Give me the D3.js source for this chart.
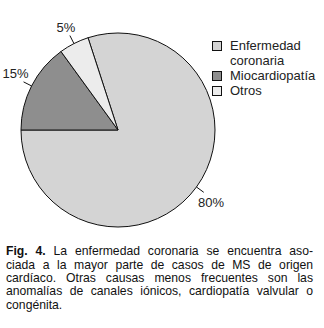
<!DOCTYPE html>
<html><head><meta charset="utf-8">
<script src="https://cdn.jsdelivr.net/npm/d3@7"></script>
<style>html,body{margin:0;padding:0;background:#fff;}svg{display:block;}</style>
</head><body>
<svg id="c" width="324" height="328"></svg>
<script>
const categories = ["Enfermedad coronaria", "Miocardiopatía", "Otros"];
const legendLines = [["Enfermedad", "coronaria"], ["Miocardiopatía"], ["Otros"]];
const values = [80, 15, 5];
const valueLabels = ["80%", "15%", "5%"];
const colors = ["#d4d4d4", "#8e8e8e", "#ececec"];
const captionLines = [
  [["Fig.", true], ["4.", true], ["La",0], ["enfermedad",0], ["coronaria",0], ["se",0], ["encuentra",0], ["aso-",0]],
  [["ciada",0], ["a",0], ["la",0], ["mayor",0], ["parte",0], ["de",0], ["casos",0], ["de",0], ["MS",0], ["de",0], ["origen",0]],
  [["cardíaco.",0], ["Otras",0], ["causas",0], ["menos",0], ["frecuentes",0], ["son",0], ["las",0]],
  [["anomalías",0], ["de",0], ["canales",0], ["iónicos,",0], ["cardiopatía",0], ["valvular",0], ["o",0]],
  [["congénita.",0]]
];

const svg = d3.select("#c");
const font = "'Liberation Sans', Arial, sans-serif";
const cx = 118, cy = 130, R = 97;
const deg = Math.PI / 180;

const pie = d3.pie().sort(null).value(d => d).startAngle(-18 * deg).endAngle(342 * deg);
const arcs = pie(values);
const arc = d3.arc().innerRadius(0).outerRadius(R);
const g = svg.append("g").attr("transform", `translate(${cx},${cy})`);
g.selectAll("path").data(arcs).join("path")
  .attr("d", arc)
  .attr("fill", (d, i) => colors[i])
  .attr("stroke", "#111").attr("stroke-width", 1).attr("stroke-linejoin", "round");

// labels with leader lines
arcs.forEach((a, i) => {
  const m = (a.startAngle + a.endAngle) / 2;
  const s = Math.sin(m), c = -Math.cos(m);
  const p0 = [s * R, c * R], p1 = [s * (R + 9), c * (R + 9)];
  g.append("line").attr("x1", p0[0]).attr("y1", p0[1]).attr("x2", p1[0]).attr("y2", p1[1])
    .attr("stroke", "#111").attr("stroke-width", 1);
  const tx = p1[0] + 9 * s;
  const ty = c < 0 ? p1[1] - 3.5 : p1[1] + 15;
  g.append("text").attr("x", tx).attr("y", ty).attr("text-anchor", "middle")
    .attr("font-family", font).attr("font-size", 13).attr("fill", "#222").text(valueLabels[i]);
});

// legend
const legendRows = [0, 2, 3];
const lineH = 15;
categories.forEach((cat, i) => {
  const y0 = 50 + legendRows[i] * lineH;
  svg.append("rect").attr("x", 212.5).attr("y", y0 - 8.5).attr("width", 9).attr("height", 9)
    .attr("fill", colors[i]).attr("stroke", "#111").attr("stroke-width", 1);
  legendLines[i].forEach((t, j) => {
    svg.append("text").attr("x", 230).attr("y", y0 + j * 14.5)
      .attr("font-family", font).attr("font-size", 13).attr("fill", "#222").text(t);
  });
});

// caption, justified
const capSize = 12.2, left = 6, right = 313, base0 = 255.3, capLH = 13.35;
const meas = svg.append("text").attr("font-family", font).attr("font-size", capSize).attr("visibility", "hidden");
function w(t, b) { meas.attr("font-weight", b ? "bold" : "normal").text(t); return meas.node().getComputedTextLength(); }
const spaceW = w("a a") - w("aa");
captionLines.forEach((line, li) => {
  const widths = line.map(([t, b]) => w(t, b));
  const total = d3.sum(widths);
  const last = li === captionLines.length - 1;
  const gap = (!last && line.length > 1) ? (right - left - total) / (line.length - 1) : spaceW;
  let x = left;
  const y = base0 + li * capLH;
  line.forEach(([t, b], k) => {
    svg.append("text").attr("x", x).attr("y", y).attr("font-family", font).attr("font-size", capSize)
      .attr("font-weight", b ? "bold" : "normal").attr("fill", "#111").text(t);
    x += widths[k] + gap;
  });
});
meas.remove();
</script>
</body></html>
